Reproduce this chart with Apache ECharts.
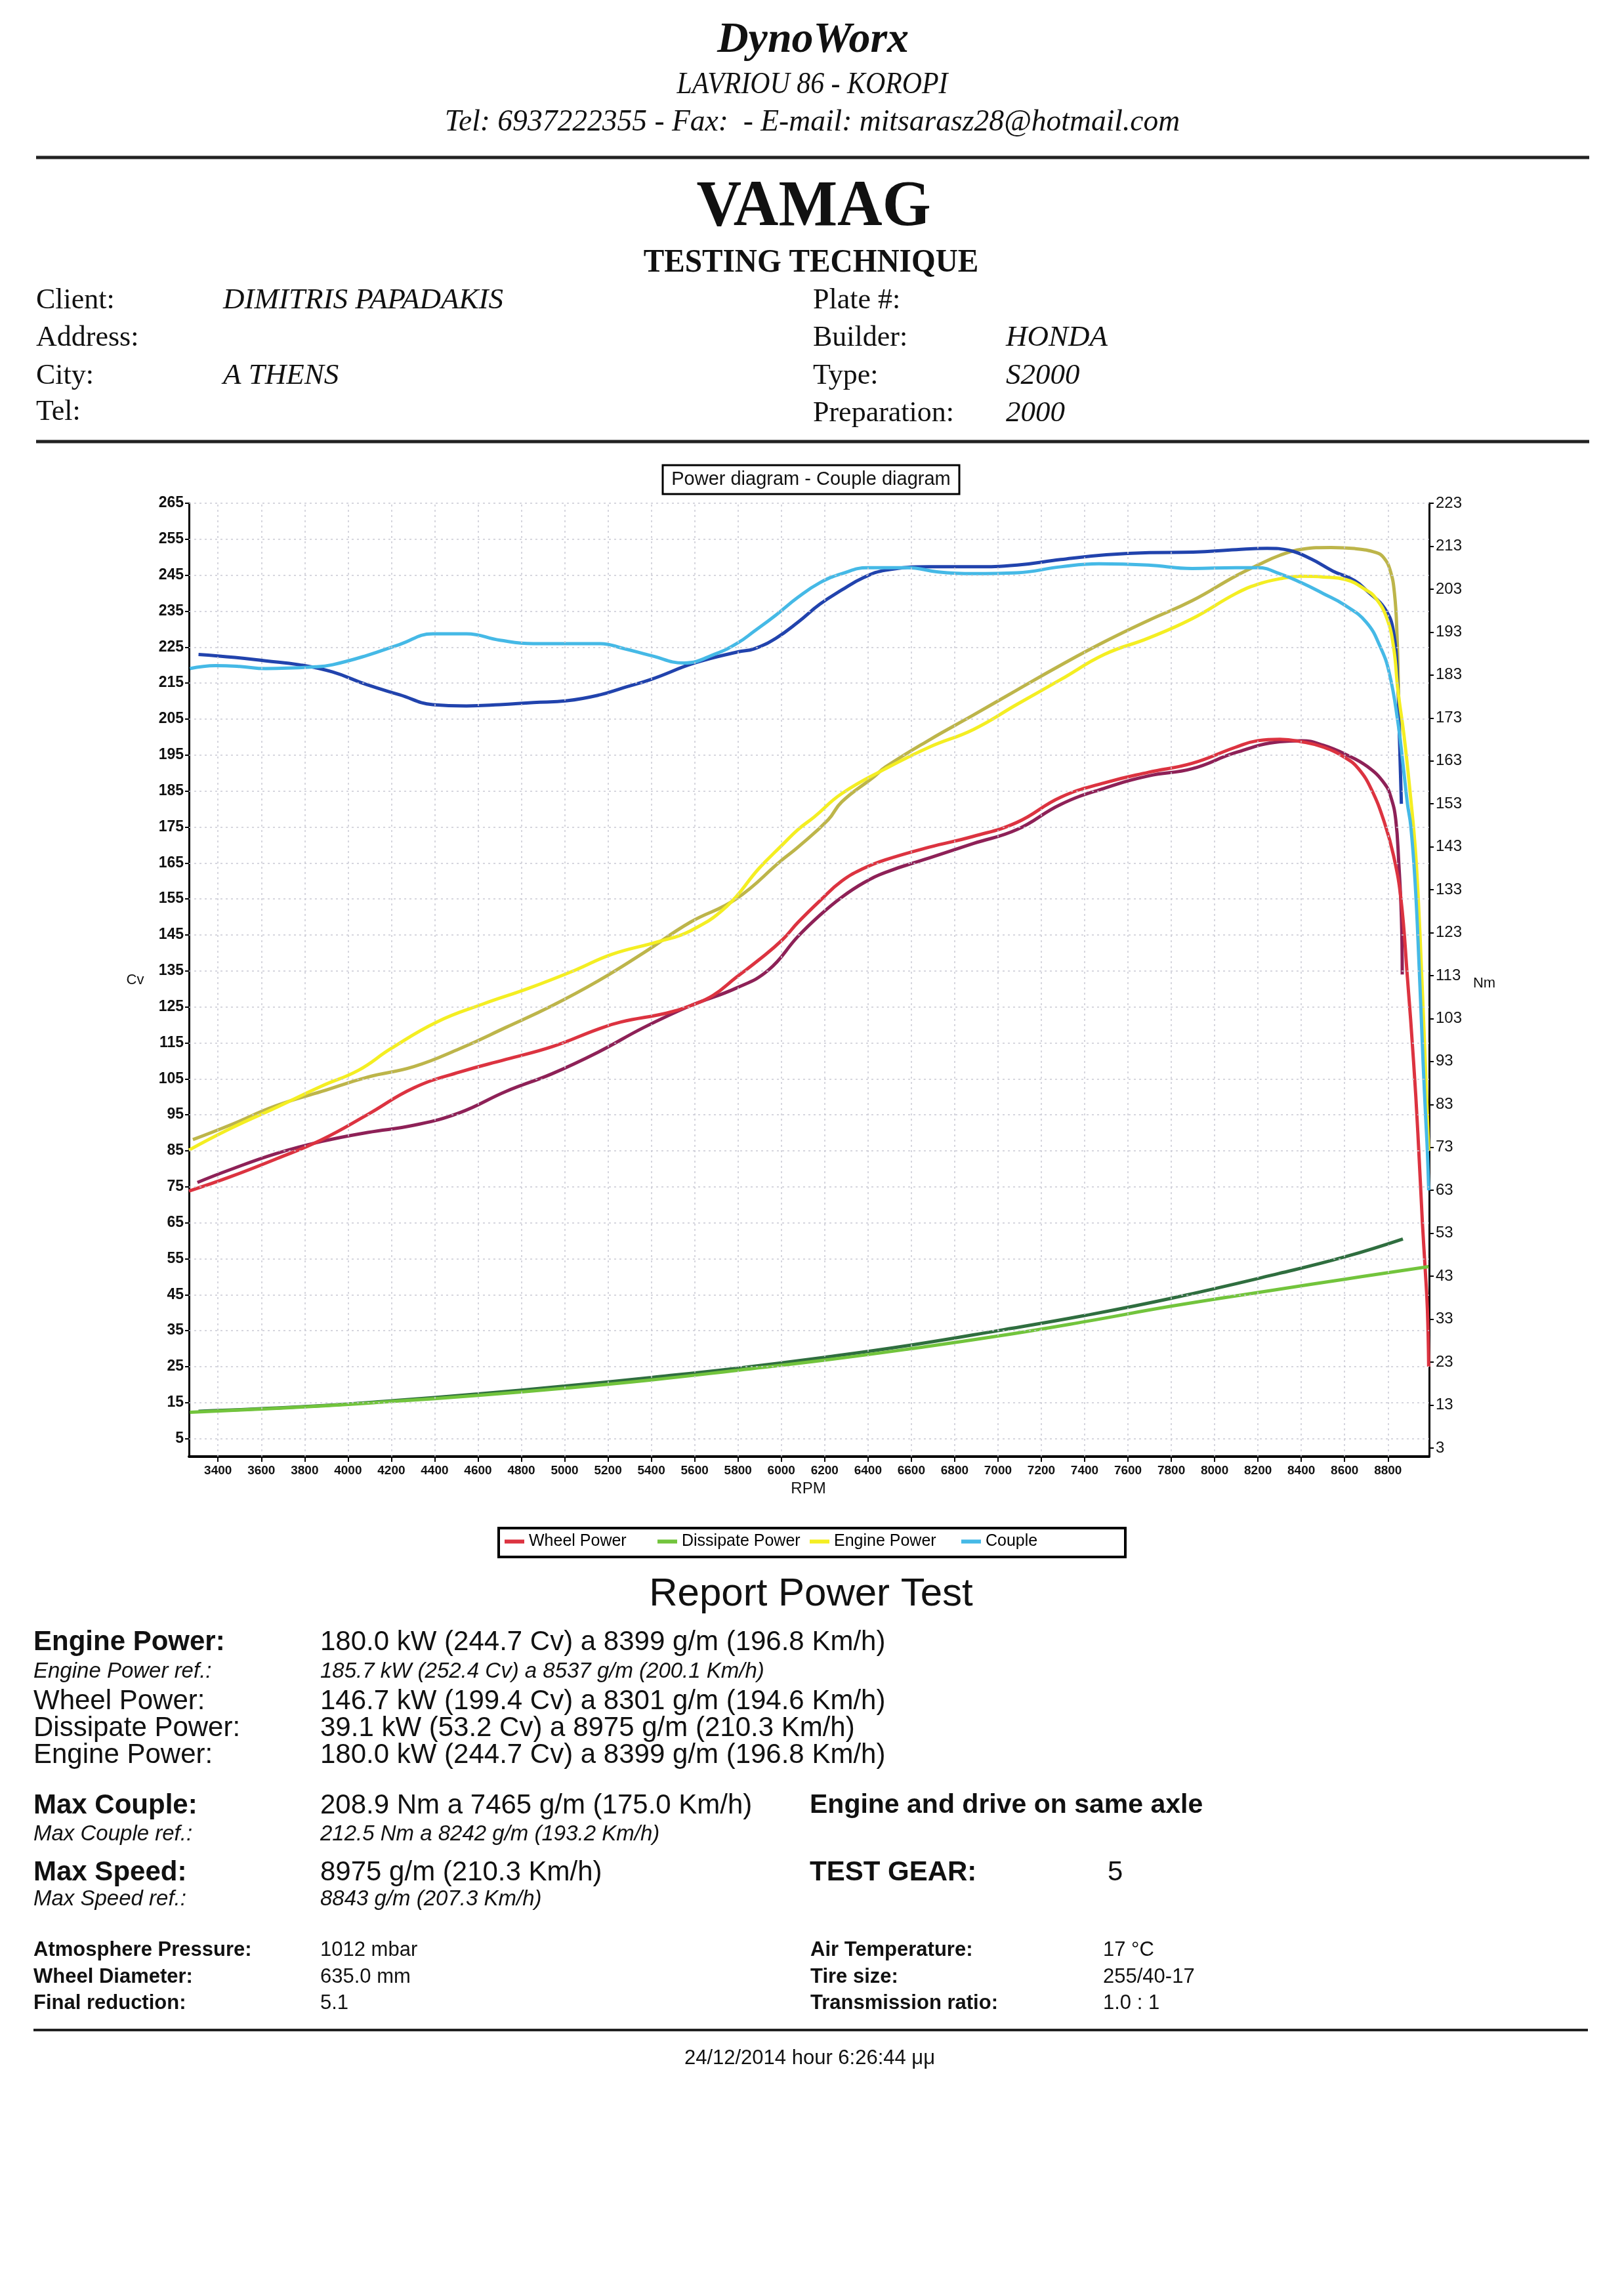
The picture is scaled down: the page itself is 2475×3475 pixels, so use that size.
<!DOCTYPE html>
<html><head><meta charset="utf-8">
<script src="https://cdn.jsdelivr.net/npm/echarts@6/dist/echarts.min.js"></script>
<style>html,body{margin:0;padding:0;background:#fff}#c{width:2475px;height:3475px}</style>
</head><body><div id="c"></div>
<script>
// ---------- axis ticks ----------
const xTicks = [3400,3600,3800,4000,4200,4400,4600,4800,5000,5200,5400,5600,5800,6000,6200,6400,6600,6800,7000,7200,7400,7600,7800,8000,8200,8400,8600,8800];
const cvTicks = [5,15,25,35,45,55,65,75,85,95,105,115,125,135,145,155,165,175,185,195,205,215,225,235,245,255,265];
const nmTicks = [3,13,23,33,43,53,63,73,83,93,103,113,123,133,143,153,163,173,183,193,203,213,223];

// ---------- Wheel Power (Cv) ----------
const wheelRpm = [3266,3454,3667,3879,4091,4304,4516,4729,4941,5154,5260,5472,5579,5685,5791,5897,6004,6077,6178,6279,6380,6481,6683,6886,7088,7290,7492,7694,7896,8098,8199,8301,8401,8502,8604,8664,8725,8785,8826,8860,8890,8918,8938,8959,8972,8982,8988];
const wheelCv  = [73.8,77.7,82.7,88.1,95.1,102.5,106.9,110.4,113.9,118.8,120.8,123.3,125.3,128.2,133.2,138.1,143.6,148.5,154.5,160,163.5,165.9,169.4,172.4,176.3,183.3,187.3,190.2,192.7,197.2,199,199.4,198.7,197.2,194.2,191.2,185.3,176,167,155,133,110,90,65,52,41,25];
const wheelRefRpm = [3305,3454,3667,3879,4091,4304,4516,4729,4941,5154,5366,5579,5791,5940,6077,6178,6279,6380,6481,6683,6886,7088,7290,7492,7694,7896,8098,8300,8401,8502,8604,8705,8785,8815,8836,8850,8862,8866];
const wheelRefCv  = [76.2,79.7,84.2,87.6,90.1,92.1,95.6,101.5,106.4,112.4,119.3,125.3,130.2,135.2,144.6,150.5,155.5,159.5,162.4,166.4,170.4,174.3,181.3,185.8,189.2,191.2,195.7,198.7,199,197.7,195.2,191.8,187,183,177,165,150,134];

// ---------- Engine Power (Cv) ----------
const engineRpm = [3266,3454,3667,3879,4049,4198,4410,4623,4835,5048,5217,5430,5579,5749,5897,6004,6077,6152,6279,6481,6683,6886,7088,7290,7492,7694,7896,8098,8200,8300,8399,8502,8604,8696,8745,8795,8826,8846,8875,8905,8925,8940,8955,8972,8988];
const engineCv  = [85.2,91.1,97,103,107.4,113.4,120.8,125.8,130.2,135.2,139.6,143.1,146.1,153,163.5,170,174.3,177.8,184.3,191.2,197.2,202.1,209.1,216,223,227.5,232.9,239.9,242.5,244,244.7,244.5,243.8,241,238.5,233,225,213,200,183,170,155,135,110,85];
const engineRefRpm = [3284,3454,3667,3879,4091,4304,4516,4729,4941,5154,5366,5579,5791,6004,6077,6216,6279,6428,6481,6683,6886,7088,7290,7492,7694,7896,8098,8199,8300,8400,8537,8646,8745,8780,8810,8830,8842,8850,8858];
const engineRefCv  = [88.1,92.1,97.5,101.5,105.5,108.4,113.4,119.3,125.3,132.2,140.1,148.5,155,165.9,169.4,177,182,189,191.7,199.2,206.1,213.1,220,226.5,232.4,237.9,244.8,247.8,250.5,252.2,252.7,252.4,251.3,249.9,246.4,240,228,210,195];

// ---------- Dissipate Power (Cv) ----------
const dissRpm = [3270,3800,4200,4600,5000,5400,5800,6200,6600,7000,7400,7800,8297,8600,8988];
const dissCv  = [12.3,13.8,15.3,17,19,21.3,24,26.8,30,33.5,37.5,41.8,46.5,49.3,52.8];
const dissRefRpm = [3310,3800,4200,4600,5000,5400,5800,6200,6600,7000,7400,7800,8297,8600,8869];
const dissRefCv  = [12.6,13.9,15.5,17.4,19.6,22,24.6,27.6,31,35,39.2,44,50.9,55.5,60.5];

// ---------- Couple (Nm) ----------
const coupleRpm = [3270,3389,3500,3620,3851,3929,4084,4238,4392,4547,4701,4856,5010,5164,5270,5400,5550,5700,5800,5875,5976,6077,6178,6279,6400,6582,6724,6886,7088,7290,7465,7694,7896,8098,8200,8300,8400,8500,8600,8700,8765,8806,8846,8870,8890,8905,8925,8944,8962,8974,8982,8988];
const coupleNm  = [184.5,185.2,185,184.5,184.9,185.4,187.5,190.1,192.6,192.6,191.1,190.3,190.3,190.3,189.2,187.5,185.8,188,190.5,193.2,197,201.1,204.5,206.6,208,208,207,206.6,206.8,208.2,208.9,208.6,207.8,208,208,206.6,204.5,202,199.3,195.3,189.5,183.5,172,162,153,148,135,115,93,80,72,63];
const coupleRefRpm = [3310,3478,3620,3774,3929,4084,4238,4392,4547,4701,4856,5010,5164,5270,5400,5600,5800,5875,5976,6077,6178,6279,6380,6481,6683,6886,7088,7290,7500,7700,7900,8100,8242,8346,8446,8546,8646,8705,8785,8826,8846,8852,8862];
const coupleRefNm  = [187.8,187.1,186.3,185.4,183.7,180.8,178.4,176.1,175.8,176.1,176.6,177,178.4,180,182,185.8,188.4,189.1,191.6,195.3,199.5,202.8,205.7,207.4,208.2,208.2,208.6,209.9,211,211.5,211.6,212.2,212.5,212,210,207.2,205,202.5,198.5,193,180,170,153];

const zip = (xs, ys) => xs.map((x, i) => [x, ys[i]]);

const SANS = 'Liberation Sans', SERIF = 'Liberation Serif';
function T(text, x, y, size, o) {
  o = o || {};
  const al = o.align || 'left';
  return {
    type: 'text', x: x, y: y, scaleX: o.sx || 1, z: 100,
    style: {
      text: text, fontSize: size, fontFamily: o.family || SANS,
      fontWeight: o.weight || 'normal', fontStyle: o.style || 'normal',
      fill: o.color || '#111',
      align: al, textAlign: al, verticalAlign: 'middle', textVerticalAlign: 'middle'
    }
  };
}
function L(x1, y1, x2, y2, w) {
  return { type: 'line', z: 100, shape: { x1: x1, y1: y1, x2: x2, y2: y2 }, style: { stroke: '#222', lineWidth: w || 4 } };
}

const graphics = [
  T('DynoWorx', 1239, 62, 66, { family: SERIF, weight: 'bold', style: 'italic', align: 'center' }),
  T('LAVRIOU 86 - KOROPI', 1238, 130, 46, { family: SERIF, style: 'italic', align: 'center', sx: 0.91 }),
  T('Tel: 6937222355 - Fax:  - E-mail: mitsarasz28@hotmail.com', 1238, 187, 46, { family: SERIF, style: 'italic', align: 'center', sx: 0.99 }),
  L(55, 240, 2422, 240, 5),
  T('VAMAG', 1240, 317, 100, { family: SERIF, weight: 'bold', align: 'center', sx: 0.95 }),
  T('TESTING TECHNIQUE', 1236, 401, 50, { family: SERIF, weight: 'bold', align: 'center', sx: 0.945 }),
  T('Client:', 55, 458, 44, { family: SERIF }),
  T('Address:', 55, 515, 44, { family: SERIF }),
  T('City:', 55, 573, 44, { family: SERIF }),
  T('Tel:', 55, 628, 44, { family: SERIF }),
  T('DIMITRIS PAPADAKIS', 340, 458, 45, { family: SERIF, style: 'italic' }),
  T('A THENS', 340, 573, 45, { family: SERIF, style: 'italic' }),
  T('Plate #:', 1239, 458, 44, { family: SERIF }),
  T('Builder:', 1239, 515, 44, { family: SERIF }),
  T('Type:', 1239, 573, 44, { family: SERIF }),
  T('Preparation:', 1239, 630, 44, { family: SERIF }),
  T('HONDA', 1533, 515, 45, { family: SERIF, style: 'italic' }),
  T('S2000', 1533, 573, 45, { family: SERIF, style: 'italic' }),
  T('2000', 1533, 630, 45, { family: SERIF, style: 'italic' }),
  L(55, 673, 2422, 673, 5),
  // chart title box
  { type: 'rect', z: 100, shape: { x: 1010, y: 709, width: 452, height: 44 }, style: { fill: '#fff', stroke: '#000', lineWidth: 3 } },
  T('Power diagram - Couple diagram', 1236, 731, 29, { align: 'center' }),
  // axis names
  T('Cv', 206, 1494, 22, { align: 'center' }),
  T('Nm', 2262, 1499, 22, { align: 'center' }),
  T('RPM', 1232, 2269, 24, { align: 'center' }),
  // legend box
  { type: 'rect', z: 1, shape: { x: 760, y: 2329, width: 955, height: 44 }, style: { fill: '#fff', stroke: '#000', lineWidth: 4 } },
  // report
  T('Report Power Test', 1236, 2430, 60, { align: 'center' }),
  T('Engine Power:', 51, 2503, 42, { weight: 'bold' }),
  T('180.0 kW (244.7 Cv) a 8399 g/m (196.8 Km/h)', 488, 2503, 42),
  T('Engine Power ref.:', 51, 2548, 33, { style: 'italic' }),
  T('185.7 kW (252.4 Cv) a 8537 g/m (200.1 Km/h)', 488, 2548, 33, { style: 'italic' }),
  T('Wheel Power:', 51, 2593, 42),
  T('146.7 kW (199.4 Cv) a 8301 g/m (194.6 Km/h)', 488, 2593, 42),
  T('Dissipate Power:', 51, 2634, 42),
  T('39.1 kW (53.2 Cv) a 8975 g/m (210.3 Km/h)', 488, 2634, 42),
  T('Engine Power:', 51, 2675, 42),
  T('180.0 kW (244.7 Cv) a 8399 g/m (196.8 Km/h)', 488, 2675, 42),
  T('Max Couple:', 51, 2752, 42, { weight: 'bold' }),
  T('208.9 Nm a 7465 g/m (175.0 Km/h)', 488, 2752, 42),
  T('Engine and drive on same axle', 1234, 2752, 41, { weight: 'bold' }),
  T('Max Couple ref.:', 51, 2796, 33, { style: 'italic' }),
  T('212.5 Nm a 8242 g/m (193.2 Km/h)', 488, 2796, 33, { style: 'italic' }),
  T('Max Speed:', 51, 2854, 42, { weight: 'bold' }),
  T('8975 g/m (210.3 Km/h)', 488, 2854, 42),
  T('TEST GEAR:', 1234, 2854, 42, { weight: 'bold' }),
  T('5', 1688, 2854, 42),
  T('Max Speed ref.:', 51, 2895, 33, { style: 'italic' }),
  T('8843 g/m (207.3 Km/h)', 488, 2895, 33, { style: 'italic' }),
  T('Atmosphere Pressure:', 51, 2972, 31, { weight: 'bold' }),
  T('1012 mbar', 488, 2972, 31),
  T('Air Temperature:', 1235, 2972, 31, { weight: 'bold' }),
  T('17 °C', 1681, 2972, 31),
  T('Wheel Diameter:', 51, 3013, 31, { weight: 'bold' }),
  T('635.0 mm', 488, 3013, 31),
  T('Tire size:', 1235, 3013, 31, { weight: 'bold' }),
  T('255/40-17', 1681, 3013, 31),
  T('Final reduction:', 51, 3053, 31, { weight: 'bold' }),
  T('5.1', 488, 3053, 31),
  T('Transmission ratio:', 1235, 3053, 31, { weight: 'bold' }),
  T('1.0 : 1', 1681, 3053, 31),
  L(51, 3094, 2420, 3094, 4),
  T('24/12/2014 hour 6:26:44 μμ', 1234, 3137, 31, { align: 'center' })
];

function mkLegend(name, left) {
  return {
    data: [name], left: left, top: 2337, padding: 0, itemGap: 0,
    icon: 'rect', itemWidth: 30, itemHeight: 6, selectedMode: false, z: 10,
    textStyle: { fontSize: 25, fontFamily: SANS, color: '#000', padding: [0, 0, 0, 2] }
  };
}
function ln(name, data, color, yi, z) {
  return {
    name: name, type: 'line', data: data, yAxisIndex: yi, showSymbol: false, symbol: 'none',
    smooth: 0.45, z: z, silent: true,
    itemStyle: { color: color }, lineStyle: { color: color, width: 5 }
  };
}

const gridStyle = { type: [3, 5], color: '#c9c9d3', width: 1.5 };
const option = {
  animation: false,
  backgroundColor: '#ffffff',
  grid: { left: 288, top: 767, width: 1890, height: 1453, containLabel: false },
  xAxis: {
    type: 'value', min: 3266, max: 8990,
    axisLine: { show: true, lineStyle: { color: '#000', width: 4 } },
    axisTick: { show: true, customValues: xTicks, length: 8, lineStyle: { color: '#000', width: 2 } },
    axisLabel: { customValues: xTicks, formatter: v => String(v), fontSize: 19, fontWeight: 'bold', fontFamily: SANS, color: '#111', margin: 12 },
    splitLine: { show: false }
  },
  yAxis: [
    {
      type: 'value', position: 'left', min: 0, max: 265,
      axisLine: { show: true, lineStyle: { color: '#000', width: 3 } },
      axisTick: { show: true, customValues: cvTicks, length: 6, lineStyle: { color: '#000', width: 2 } },
      axisLabel: { customValues: cvTicks, formatter: v => String(v), fontSize: 23, fontWeight: 'bold', fontFamily: SANS, color: '#111', margin: 8 },
      splitLine: { show: false }
    },
    {
      type: 'value', position: 'right', min: 1, max: 223,
      axisLine: { show: true, lineStyle: { color: '#000', width: 3 } },
      axisTick: { show: true, customValues: nmTicks, length: 7, lineStyle: { color: '#000', width: 2 } },
      axisLabel: { customValues: nmTicks, formatter: v => String(v), fontSize: 24, fontFamily: SANS, color: '#111', margin: 10 },
      splitLine: { show: false }
    }
  ],
  legend: [
    mkLegend('Wheel Power', 769),
    mkLegend('Dissipate Power', 1002),
    mkLegend('Engine Power', 1234),
    mkLegend('Couple', 1465)
  ],
  series: [
    {
      name: 'grid', type: 'line', data: [], yAxisIndex: 0, silent: true, z: 1,
      markLine: {
        silent: true, symbol: ['none', 'none'], label: { show: false }, animation: false,
        lineStyle: gridStyle, emphasis: { disabled: true },
        data: xTicks.map(v => ({ xAxis: v })).concat(cvTicks.map(v => ({ yAxis: v })))
      }
    },
    ln('Wheel Power ref', zip(wheelRefRpm, wheelRefCv), '#8e2157', 0, 3),
    ln('Engine Power ref', zip(engineRefRpm, engineRefCv), '#bdb54a', 0, 3),
    ln('Dissipate Power ref', zip(dissRefRpm, dissRefCv), '#2f6e3f', 0, 3),
    ln('Couple ref', zip(coupleRefRpm, coupleRefNm), '#2143ad', 1, 3),
    ln('Wheel Power', zip(wheelRpm, wheelCv), '#dc3340', 0, 4),
    ln('Dissipate Power', zip(dissRpm, dissCv), '#72c43c', 0, 4),
    ln('Engine Power', zip(engineRpm, engineCv), '#f4ee22', 0, 4),
    ln('Couple', zip(coupleRpm, coupleNm), '#45b9e6', 1, 4)
  ],
  graphic: graphics
};
const chart = echarts.init(document.getElementById('c'), null, { renderer: 'canvas' });
chart.setOption(option);
</script>
</body></html>
